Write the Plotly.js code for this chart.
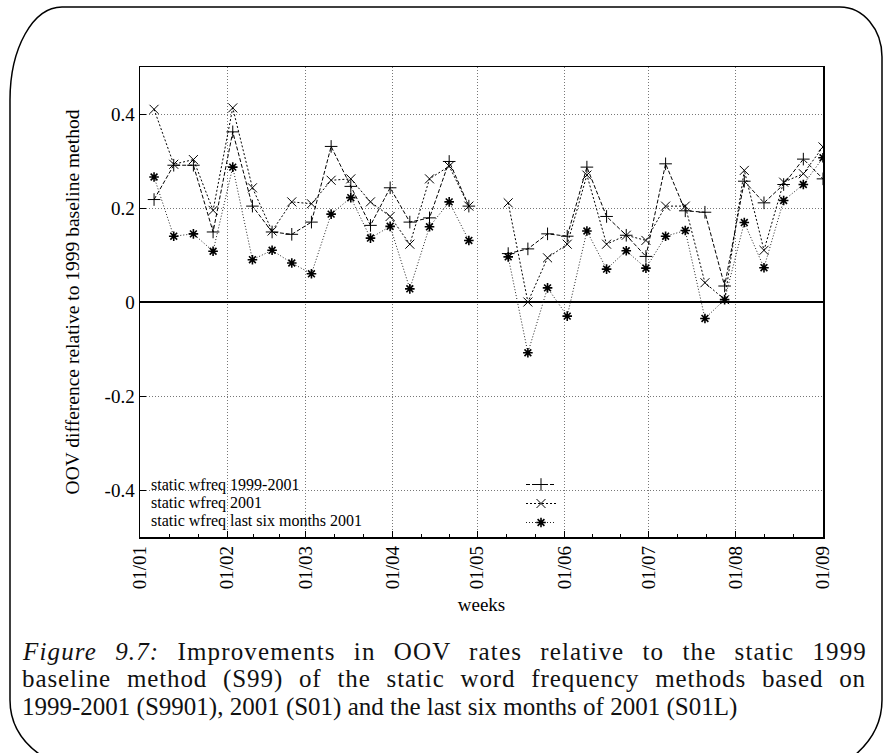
<!DOCTYPE html>
<html><head><meta charset="utf-8">
<script src="https://cdn.plot.ly/plotly-3.0.1.min.js"></script>
<style>html,body{margin:0;padding:0;background:#fff;}#chart{width:884px;height:753px;}</style>
</head><body><div id="chart"></div>
<script>
// ---- data ----
const weeks = ['2002-01-06','2002-01-13','2002-01-20','2002-01-27','2002-02-03','2002-02-10','2002-02-17','2002-02-24',
  '2002-03-03','2002-03-10','2002-03-17','2002-03-24','2002-03-31','2002-04-07','2002-04-14','2002-04-21','2002-04-28',
  '2002-05-05','2002-05-12','2002-05-19','2002-05-26','2002-06-02','2002-06-09','2002-06-16','2002-06-23','2002-06-30',
  '2002-07-07','2002-07-14','2002-07-21','2002-07-28','2002-08-04','2002-08-11','2002-08-18','2002-08-25','2002-09-01'];
const s9901 = [0.218,0.291,0.291,0.149,0.362,0.204,0.149,0.144,0.170,0.331,0.246,0.163,0.243,0.170,0.179,0.299,0.204,
  null,0.103,0.113,0.145,0.140,0.287,0.182,0.142,0.097,0.294,0.194,0.191,0.034,0.257,0.211,0.250,0.304,0.262];
const s01 = [0.410,0.293,0.303,0.195,0.413,0.243,0.151,0.213,0.209,0.259,0.262,0.213,0.182,0.123,0.262,0.289,0.204,
  null,0.211,0.000,0.094,0.123,0.270,0.123,0.142,0.131,0.204,0.204,0.041,0.005,0.280,0.110,0.255,0.273,0.330];
const s01l = [0.266,0.140,0.145,0.108,0.287,0.090,0.110,0.083,0.060,0.187,0.222,0.136,0.161,0.028,0.160,0.213,0.131,
  null,0.096,-0.108,0.030,-0.030,0.151,0.070,0.109,0.072,0.140,0.152,-0.035,0.005,0.169,0.073,0.216,0.250,0.307];
const seriesNames = ['static wfreq 1999-2001','static wfreq 2001','static wfreq last six months 2001'];
const yTickVals = [-0.4,-0.2,0,0.2,0.4];
const yTickText = ['-0.4','-0.2','0','0.2','0.4'];
const xRange = ['2002-01-01','2002-09-01'];
const xTitle = 'weeks';
const yTitle = 'OOV difference relative to 1999 baseline method';
const captionLines = [
  '<i>Figure 9.7:</i> Improvements in OOV rates relative to the static 1999',
  'baseline method (S99) of the static word frequency methods based on',
  '1999-2001 (S9901), 2001 (S01) and the last six months of 2001 (S01L)'
];

// ---- layout helpers ----
const W = 884, H = 753, M = {l:140, r:61, t:67, b:216};
const PW = W - M.l - M.r, PH = H - M.t - M.b;
const px = x => (x - M.l) / PW;
const py = y => (H - M.b - y) / PH;
const F = 'Liberation Serif, Times New Roman, serif';

// minor ticks: thirds of each month
const minorTicks = [];
for (let m = 0; m < 8; m++) {
  const a = Date.UTC(2002, m, 1), b = Date.UTC(2002, m + 1, 1);
  [1, 2].forEach(k => {
    const d = new Date(a + (b - a) * k / 3);
    minorTicks.push(d.toISOString().replace('T', ' ').slice(0, 19));
  });
}

const styles = [
  {dash:'4px,2px', color:'#000', symbol:'cross-thin-open', size:9, mw:1},
  {dash:'2px,2px', color:'#000', symbol:'x-thin-open', size:9, mw:1},
  {dash:'1px,2px', color:'#222', symbol:'asterisk-open', size:8, mw:1.6}
];
const ys = [s9901, s01, s01l];
const traces = ys.map((y, i) => ({
  type:'scatter', mode:'lines+markers', x:weeks, y:y, name:'', connectgaps:false,
  line:{color:styles[i].color, width:1, dash:styles[i].dash},
  marker:{symbol:styles[i].symbol, size:styles[i].size, color:'#000', line:{color:'#000', width:styles[i].mw}},
  hoverinfo:'x+y'
}));

function P(pts) { return pts.map(p => `${p[0]} ${px(p[1]).toFixed(5)},${py(p[2]).toFixed(5)}`).join(' '); }
const framePath = P([
  ['M',52,762],['C',26,748],['',10,728],['',10,700],
  ['L',10,100],['C',10,48],['',33,7],['',62,7],
  ['L',840,7],['C',863,7],['',882,29],['',882,57],
  ['L',882,700],['C',882,728],['',866,748],['',846,762]
]);

const annotations = [];
seriesNames.forEach((n, i) => annotations.push({
  xref:'paper', yref:'paper', x:px(150), y:py(485 + 18 * i), xanchor:'left', yanchor:'middle',
  showarrow:false, align:'left', borderpad:0, text:n, font:{family:F, size:16, color:'#000'}
}));
captionLines.forEach((t, i) => annotations.push({
  xref:'paper', yref:'paper', x:px(21), y:py(651 + 28 * i), xanchor:'left', yanchor:'middle',
  showarrow:false, align:'left', borderpad:0, text:t, font:{family:F, size:25, color:'#111'}
}));

const axisCommon = {
  showline:true, linecolor:'#000', linewidth:1.5, mirror:true,
  ticks:'inside', ticklen:6, tickwidth:1, tickcolor:'#000',
  showgrid:true, gridcolor:'#777', gridwidth:1, griddash:'1px,2px',
  automargin:false, fixedrange:true, tickfont:{family:F, size:19, color:'#000'}
};

const layout = {
  width:W, height:H, margin:M, paper_bgcolor:'#fff', plot_bgcolor:'#fff',
  font:{family:F, size:19, color:'#000'},
  showlegend:true,
  legend:{x:px(521), y:py(470), xanchor:'left', yanchor:'top', bgcolor:'rgba(0,0,0,0)', borderwidth:0,
          font:{size:10}, tracegroupgap:0, itemclick:false, itemdoubleclick:false},
  xaxis:Object.assign({}, axisCommon, {
    type:'date', range:xRange, tickformat:'%d/%m', dtick:'M1', tick0:'2002-01-01', tickangle:-90,
    zeroline:false,
    minor:{tickvals:minorTicks, ticks:'inside', ticklen:3, tickwidth:1, tickcolor:'#000', showgrid:false},
    title:{text:xTitle, standoff:9, font:{family:F, size:19}}
  }),
  yaxis:Object.assign({}, axisCommon, {
    range:[-0.5, 0.5], tickmode:'array', tickvals:yTickVals, ticktext:yTickText,
    zeroline:true, zerolinecolor:'#000', zerolinewidth:1.5,
    title:{text:yTitle, standoff:20, font:{family:F, size:19.5}}
  }),
  shapes:[
    {type:'rect', xref:'paper', yref:'paper', x0:0, x1:px(577), y0:0, y1:py(474),
     fillcolor:'#fff', line:{width:0}, layer:'between'},
    {type:'path', xref:'paper', yref:'paper', path:framePath, line:{color:'#000', width:1.5}, fillcolor:'rgba(0,0,0,0)', layer:'above'}
  ],
  annotations:annotations
};

Plotly.newPlot('chart', traces, layout, {displayModeBar:false, staticPlot:true}).then(gd => {
  // justify the first two caption lines to the full text width (split between letter and word spacing)
  const groups = gd.querySelectorAll('.annotation');
  [3, 4].forEach(idx => {
    const g = groups[idx];
    if (!g) return;
    const t = g.querySelector('text.annotation-text');
    if (!t) return;
    const w = t.getComputedTextLength();
    const txt = t.textContent;
    const n = (txt.match(/ /g) || []).length;
    const extra = 866 - 22 - w;
    if (extra <= 0 || n === 0) return;
    const ls = (extra * 0.4) / (txt.length - 1);
    t.style.letterSpacing = ls.toFixed(3) + 'px';
    const w2 = t.getComputedTextLength();
    t.style.wordSpacing = ((866 - 22 - w2) / n).toFixed(3) + 'px';
  });
});
</script>
</body></html>
